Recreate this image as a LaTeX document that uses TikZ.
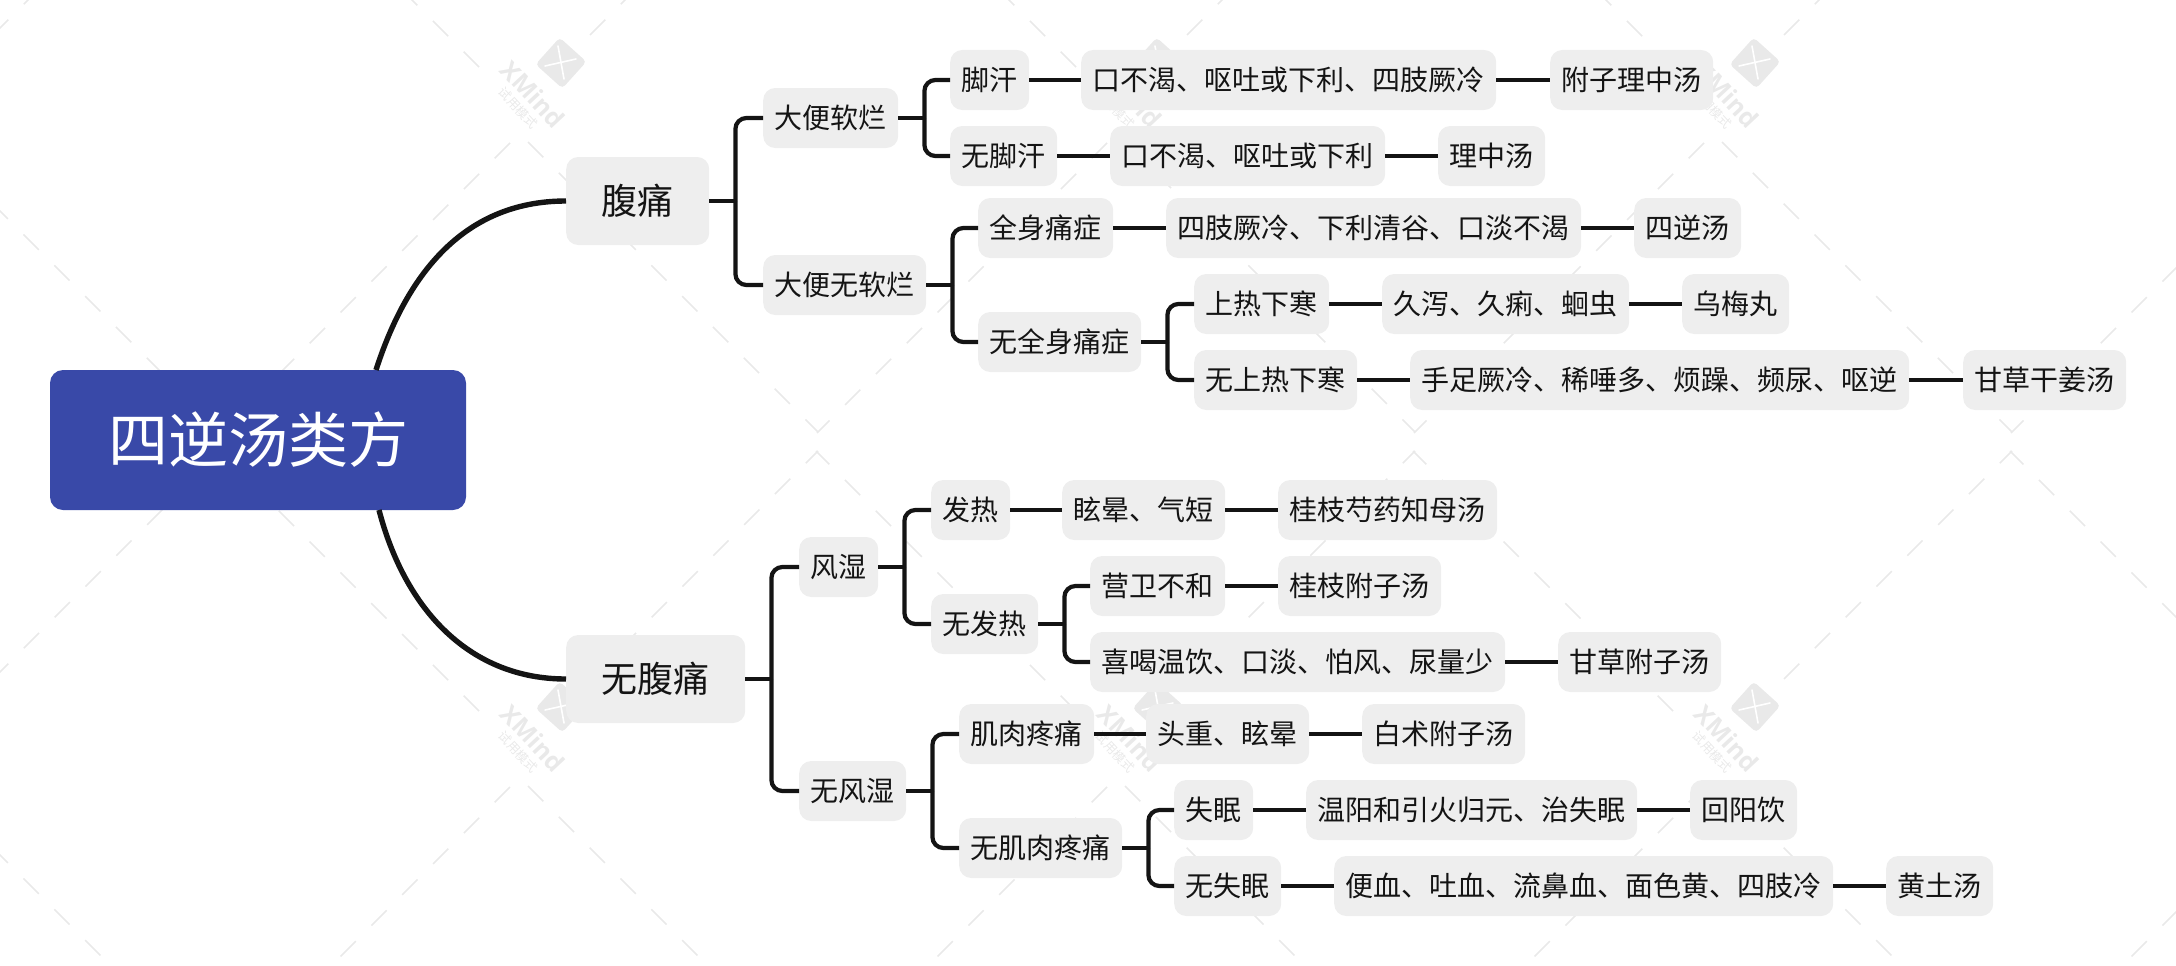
\documentclass[tikz,border=0pt]{standalone}
\usepackage{fontspec}
\setmainfont{Noto Sans CJK SC}
\newfontfamily\markfont{Open Sans}
\usepackage{tikz}
\definecolor{boxgray}{HTML}{EEEEEE}
\definecolor{rootblue}{HTML}{3949A8}
\definecolor{inkblack}{HTML}{141414}
\definecolor{markgray}{HTML}{E9E9E9}
\begin{document}
\begin{tikzpicture}[x=1pt, y=-1pt,
    leaf/.style={anchor=west, fill=boxgray, rounded corners=12pt, text=inkblack, minimum height=60pt,
        inner xsep=11.5pt, inner ysep=0pt, font=\fontsize{28}{30}\selectfont},
    branch/.style={leaf, minimum height=88pt, inner xsep=35.5pt, font=\fontsize{36}{40}\selectfont},
    rootbox/.style={fill=rootblue, rounded corners=13pt, text=white, minimum width=416pt, minimum height=140pt,
        inner sep=0pt, font=\fontsize{60}{66}\selectfont},
    link/.style={draw=inkblack, line width=4.2pt},
    mainlink/.style={draw=inkblack, line width=5.4pt},
    markdash/.style={draw=markgray, line width=1.5pt, dash pattern=on 21.6pt off 22pt}]
    \useasboundingbox (0,0) rectangle (2176,966);
    % Watermark
    \begin{scope}
        \clip (0,0) rectangle (2176,966);
        \foreach \lx in {-36,561,1158,1755,2352} \foreach \ly in {63,707} {
            \draw[markdash] (\lx-33,\ly+79) -- ++(290,290);
            \draw[markdash] (\lx-51,\ly+80) -- ++(-290,290);
            \draw[markdash] (\lx+29,\ly-28) -- ++(228,-228);
            \draw[markdash] (\lx-82,\ly+4) -- ++(-260,-260);
        }
        \foreach \lx in {561,1158,1755} \foreach \ly in {63,707} {
            \node[fill=markgray, rotate=-42, minimum size=36pt, inner sep=0pt, rounded corners=4pt] (logo\lx\ly) at (\lx,\ly) {};
            \draw[white, line width=1.6pt, line cap=round] (\lx-3,\ly-17) -- (\lx+3,\ly+16);
            \draw[white, line width=1.6pt, line cap=round] (\lx-16,\ly+3) -- (\lx+15,\ly-4);
            \node[text=markgray, rotate=-47, inner sep=0pt, font=\markfont\bfseries\fontsize{25}{25}\selectfont] (name\lx\ly) at (\lx-28,\ly+31) {XMind};
            \node[text=markgray, rotate=-47, inner sep=0pt, font=\fontsize{12.5}{13}\selectfont] (mode\lx\ly) at (\lx-43,\ly+45) {试用模式};
        }
    \end{scope}
    % Root and main branches
    \node[rootbox] (root) at (258,440) {四逆汤类方};
    \node[branch] (fu) at (566,201) {腹痛};
    \node[branch] (wufu) at (566,679) {无腹痛};
    % Belly pain
    \node[leaf] (ruan) at (763,118) {大便软烂};
    \node[leaf] (wuruan) at (763,285) {大便无软烂};
    \node[leaf] (han) at (950,80) {脚汗};
    \node[leaf] (wuhan) at (950,156) {无脚汗};
    \node[leaf] (hansym) at (1081,80) {口不渴、呕吐或下利、四肢厥冷};
    \node[leaf] (fuzi) at (1550,80) {附子理中汤};
    \node[leaf] (wuhansym) at (1110,156) {口不渴、呕吐或下利};
    \node[leaf] (lizhong) at (1438,156) {理中汤};
    \node[leaf] (quan) at (978,228) {全身痛症};
    \node[leaf] (wuquan) at (978,342) {无全身痛症};
    \node[leaf] (quansym) at (1166,228) {四肢厥冷、下利清谷、口淡不渴};
    \node[leaf] (sini) at (1634,228) {四逆汤};
    \node[leaf] (shang) at (1194,304) {上热下寒};
    \node[leaf] (wushang) at (1194,380) {无上热下寒};
    \node[leaf] (shangsym) at (1382,304) {久泻、久痢、蛔虫};
    \node[leaf] (wumei) at (1682,304) {乌梅丸};
    \node[leaf] (wushangsym) at (1410,380) {手足厥冷、稀唾多、烦躁、频尿、呕逆};
    \node[leaf] (ganjiang) at (1963,380) {甘草干姜汤};
    % No belly pain
    \node[leaf] (feng) at (799,567) {风湿};
    \node[leaf] (wufeng) at (799,791) {无风湿};
    \node[leaf] (re) at (931,510) {发热};
    \node[leaf] (wure) at (931,624) {无发热};
    \node[leaf] (resym) at (1062,510) {眩晕、气短};
    \node[leaf] (zhimu) at (1278,510) {桂枝芍药知母汤};
    \node[leaf] (ying) at (1090,586) {营卫不和};
    \node[leaf] (guizhi) at (1278,586) {桂枝附子汤};
    \node[leaf] (xi) at (1090,662) {喜喝温饮、口淡、怕风、尿量少};
    \node[leaf] (gancao) at (1558,662) {甘草附子汤};
    \node[leaf] (ji) at (959,734) {肌肉疼痛};
    \node[leaf] (wuji) at (959,848) {无肌肉疼痛};
    \node[leaf] (jisym) at (1146,734) {头重、眩晕};
    \node[leaf] (baizhu) at (1362,734) {白术附子汤};
    \node[leaf] (shi) at (1174,810) {失眠};
    \node[leaf] (wushi) at (1174,886) {无失眠};
    \node[leaf] (shisym) at (1306,810) {温阳和引火归元、治失眠};
    \node[leaf] (huiyang) at (1690,810) {回阳饮};
    \node[leaf] (wushisym) at (1334,886) {便血、吐血、流鼻血、面色黄、四肢冷};
    \node[leaf] (huangtu) at (1886,886) {黄土汤};
    % Root links
    \coordinate (rootup) at (376,370);
    \coordinate (rootdown) at (379,510);
    \draw[mainlink] (rootup) .. controls (405,280) and (460,201) .. (fu.west);
    \draw[mainlink] (rootdown) .. controls (405,610) and (470,679) .. (wufu.west);
    % Forks
    \foreach \pa/\up/\dn in {fu/ruan/wuruan, ruan/han/wuhan, wuruan/quan/wuquan, wuquan/shang/wushang,
        wufu/feng/wufeng, feng/re/wure, wure/ying/xi, wufeng/ji/wuji, wuji/shi/wushi} {
        \draw[link] (\pa.east) -- ++(26,0) coordinate (spine);
        \draw[link, rounded corners=11pt] (spine) |- (\up.west);
        \draw[link, rounded corners=11pt] (spine) |- (\dn.west);
    }
    % Straight links
    \foreach \from/\to in {han/hansym, hansym/fuzi, wuhan/wuhansym, wuhansym/lizhong, quan/quansym, quansym/sini,
        shang/shangsym, shangsym/wumei, wushang/wushangsym, wushangsym/ganjiang, re/resym, resym/zhimu,
        ying/guizhi, xi/gancao, ji/jisym, jisym/baizhu, shi/shisym, shisym/huiyang, wushi/wushisym, wushisym/huangtu}
        \draw[link] (\from) -- (\to);
\end{tikzpicture}
\end{document}
